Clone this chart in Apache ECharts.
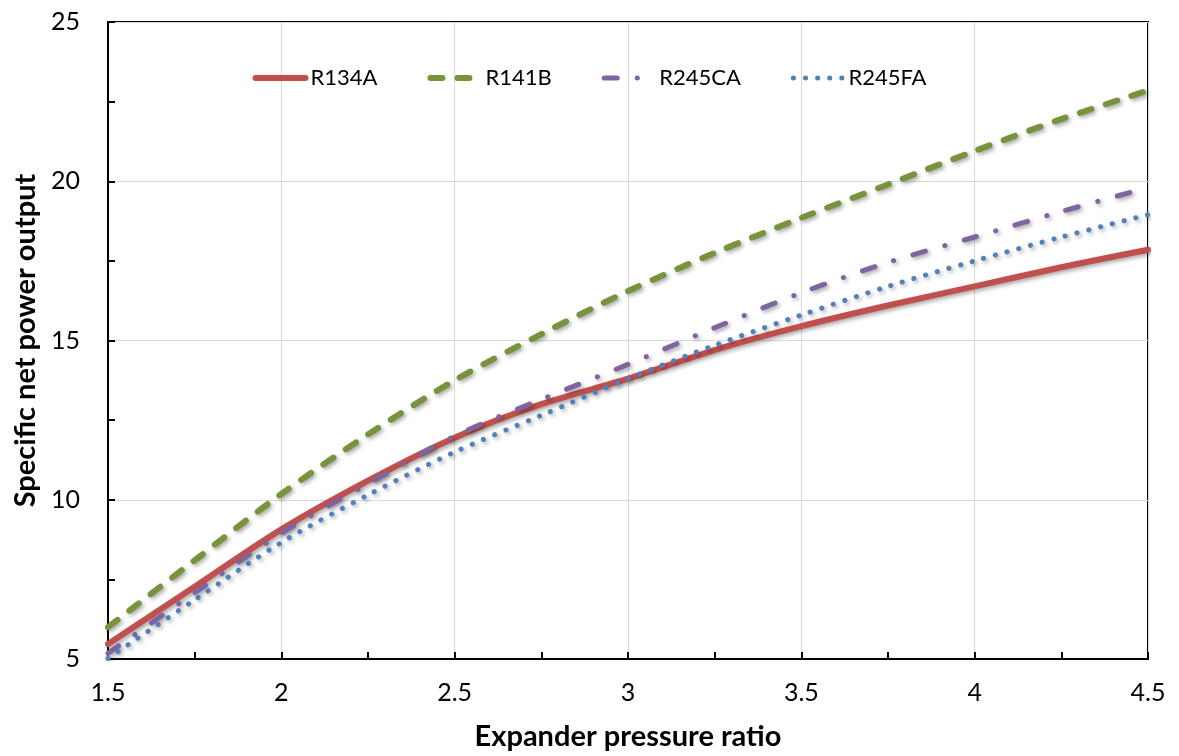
<!DOCTYPE html>
<html>
<head>
<meta charset="utf-8">
<style>
  html, body { margin: 0; padding: 0; background: #fff; }
  #chart { width: 1179px; height: 756px; }
</style>
<script src="https://cdn.jsdelivr.net/npm/echarts@6/dist/echarts.min.js"></script>
</head>
<body>
<div id="chart"></div>
<script>
// expander pressure ratio
const ratios = [1.5, 1.75, 2, 2.25, 2.5, 2.75, 3, 3.25, 3.5, 3.75, 4, 4.25, 4.5]

const r134a = [5.47, 7.27, 9.07, 10.6, 11.95, 13.0, 13.8, 14.7, 15.45, 16.1, 16.7, 17.3, 17.85]
const r141b = [6.0, 8.1, 10.18, 12.05, 13.75, 15.2, 16.55, 17.75, 18.85, 19.9, 20.95, 21.95, 22.85]
const r245ca = [5.18, 7.08, 8.95, 10.5, 12.0, 13.15, 14.25, 15.4, 16.5, 17.45, 18.25, 19.05, 19.8]
const r245fa = [5.02, 6.86, 8.66, 10.15, 11.5, 12.65, 13.8, 14.85, 15.8, 16.7, 17.5, 18.25, 18.95]

const font = 'Lato, "Noto Sans", sans-serif'
const shadow = {
  shadowColor: 'rgba(0, 0, 0, 0.35)',
  shadowBlur: 4,
  shadowOffsetX: 2,
  shadowOffsetY: 2,
}

const pairs = (vals) => ratios.map((x, i) => [x, vals[i]])

const makeSeries = (name, vals, color, width, type) => ({
  name,
  type: 'line',
  data: pairs(vals),
  smooth: 0.3,
  symbol: 'none',
  itemStyle: { color },
  lineStyle: {
    color,
    width,
    type,
    cap: 'round',
    ...shadow,
  },
})

const axisCommon = {
  nameLocation: 'middle',
  nameTextStyle: { fontSize: 29, fontWeight: 'bold', color: '#000', fontFamily: font },
  axisLine: { lineStyle: { color: '#000', width: 2 } },
  axisTick: { inside: true, length: 7, lineStyle: { color: '#000', width: 2 } },
  minorTick: { show: true, splitNumber: 2, length: 7, lineStyle: { color: '#000', width: 2 } },
  splitLine: { show: true, lineStyle: { color: '#d9d9d9', width: 1 } },
}

const chart = echarts.init(document.getElementById('chart'))

chart.setOption({
  animation: false,
  backgroundColor: '#fff',
  textStyle: { fontFamily: font },
  legend: {
    top: 62,
    left: 'center',
    itemWidth: 50,
    itemHeight: 14,
    itemGap: 50,
    itemStyle: { opacity: 0 },
    lineStyle: { width: 'inherit', type: 'inherit', cap: 'round', shadowBlur: 0, shadowOffsetX: 0, shadowOffsetY: 0 },
    textStyle: { fontSize: 22, color: '#000', fontFamily: font },
  },
  grid: {
    left: 108,
    right: 31,
    top: 22,
    bottom: 97,
    show: true,
    borderColor: '#000',
    borderWidth: 2,
  },
  xAxis: {
    ...axisCommon,
    type: 'value',
    min: 1.5,
    max: 4.5,
    interval: 0.5,
    name: 'Expander pressure ratio',
    nameGap: 63,
    axisLabel: { fontSize: 25, color: '#000', margin: 21, fontFamily: font },
  },
  yAxis: {
    ...axisCommon,
    type: 'value',
    min: 5,
    max: 25,
    interval: 5,
    name: 'Specific net power output',
    nameGap: 63,
    axisLabel: { fontSize: 25, color: '#000', margin: 28, fontFamily: font },
  },
  series: [
    makeSeries('R134A', r134a, '#c0504d', 6, 'solid'),
    makeSeries('R141B', r141b, '#77933c', 6, [12, 15]),
    makeSeries('R245CA', r245ca, '#8064a2', 5, [13, 20, 0.1, 20]),
    makeSeries('R245FA', r245fa, '#4f81bd', 5, [0.1, 12]),
  ],
})
</script>
</body>
</html>
